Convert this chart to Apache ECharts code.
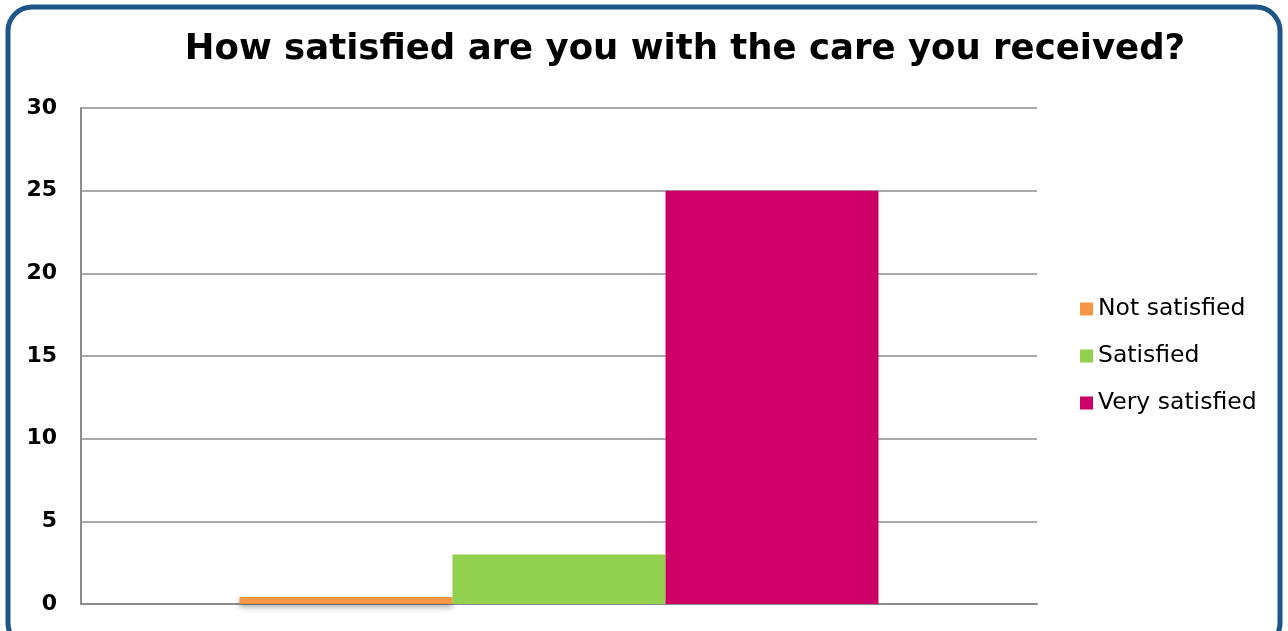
<!DOCTYPE html>
<html>
<head>
    <meta charset="UTF-8">
    <title>Care satisfaction</title>
    <script src="https://cdn.jsdelivr.net/npm/echarts@6/dist/echarts.min.js"></script>
    <style>
        html, body { margin: 0; padding: 0; background: #fff; }
    </style>
</head>
<body>
    <div id="chart" style="width: 1288px; height: 631px;"></div>
    <script>
        var categories = ['Responses'];
        var seriesNames = ['Not satisfied', 'Satisfied', 'Very satisfied'];
        var seriesValues = [[0], [3], [25]];
        var seriesColors = ['#F79646', '#92D050', '#CC0066'];
        var yTicks = [0, 5, 10, 15, 20, 25, 30];

        var chart = echarts.init(document.getElementById('chart'), null, { renderer: 'canvas' });

        var series = seriesNames.map(function (name, i) {
            return {
                name: name,
                type: 'bar',
                data: seriesValues[i],
                barWidth: 213,
                barGap: '0%',
                // zero bar is drawn as a thin line like the original
                barMinHeight: i === 0 ? 7 : 0,
                itemStyle: {
                    color: seriesColors[i],
                    shadowColor: i === 0 ? 'rgba(0,0,0,0.35)' : 'transparent',
                    shadowBlur: i === 0 ? 6 : 0,
                    shadowOffsetY: i === 0 ? 3 : 0
                }
            };
        });

        chart.setOption({
            backgroundColor: '#fff',
            animation: false,
            title: {
                text: 'How satisfied are you with the care you received?',
                left: 680,
                top: 27,
                textAlign: 'center',
                textStyle: {
                    fontFamily: 'DejaVu Sans',
                    fontWeight: 'bold',
                    fontSize: 35.5,
                    color: '#000'
                }
            },
            legend: {
                orient: 'vertical',
                left: 1080,
                top: 297,
                padding: 0,
                itemWidth: 13,
                itemHeight: 13,
                itemGap: 23,
                icon: 'rect',
                data: seriesNames,
                textStyle: { fontFamily: 'DejaVu Sans', fontSize: 23.5, color: '#000' }
            },
            grid: { left: 81, right: 251, top: 108, bottom: 27 },
            xAxis: {
                type: 'category',
                data: categories,
                axisLine: { lineStyle: { color: '#8c8c8c', width: 2 } },
                axisTick: { show: false },
                axisLabel: { show: false }
            },
            yAxis: {
                type: 'value',
                min: yTicks[0],
                max: yTicks[yTicks.length - 1],
                interval: 5,
                axisLine: { show: true, lineStyle: { color: '#8c8c8c', width: 2 } },
                axisTick: { show: false },
                axisLabel: {
                    margin: 24,
                    fontFamily: 'DejaVu Sans',
                    fontWeight: 'bold',
                    fontSize: 22,
                    color: '#000'
                },
                splitLine: { lineStyle: { color: '#8c8c8c', width: 1.5 } }
            },
            series: series,
            graphic: [{
                type: 'rect',
                shape: { x: 8, y: 7, width: 1272, height: 640, r: 24 },
                style: { fill: 'none', stroke: '#1c5688', lineWidth: 5 },
                z: 100
            }]
        });
    </script>
</body>
</html>
